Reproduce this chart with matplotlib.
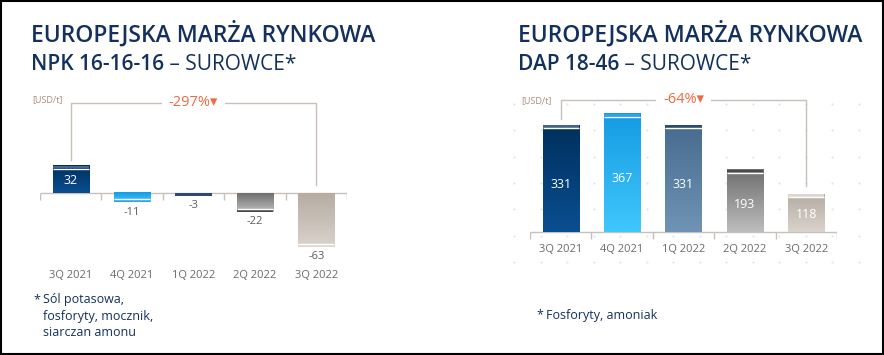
import numpy as np
import matplotlib.pyplot as plt
from matplotlib.colors import LinearSegmentedColormap
from matplotlib.transforms import offset_copy
from matplotlib.patches import Rectangle

plt.rcParams['font.family'] = ['Open Sans', 'DejaVu Sans']

# ---- data ----
quarters = ['3Q 2021', '4Q 2021', '1Q 2022', '2Q 2022', '3Q 2022']
npk_margin = [32, -11, -3, -22, -63]
dap_margin = [331, 367, 331, 193, 118]
npk_change = '-297%'
dap_change = '-64%'

npk_title = ('NPK 16-16-16', ' – SUROWCE*')
dap_title = ('DAP 18-46', ' – SUROWCE*')
npk_note = ['Sól potasowa,', 'fosforyty, mocznik,', 'siarczan amonu']
dap_note = ['Fosforyty, amoniak']

# ---- style ----
W, H = 884, 355
navy = '#13315c'
line_col = '#c9c0b9'
orange = '#ec6a43'
unit_col = '#b08a7e'
grey_txt = '#5c5c5c'
bar_grad = [('#00305e', '#0a4e90'), ('#159be2', '#40c7fc'), ('#476c8f', '#6e93b4'),
            ('#6f6f6f', '#bdbdbd'), ('#b6aca2', '#d9d3cc')]
cap_col = ['#45658a', '#2aa6e8', '#2c4c6e', '#4a4a4a', '#ddd7d0']


def fx(px):
    return px / W


def fy(py):
    return 1 - py / H


fig = plt.figure(figsize=(W / 100, H / 100), dpi=100)

# faint dot pattern behind the right panel
bg = fig.add_axes([0, 0, 1, 1], zorder=-1)
bg.set_xlim(0, W)
bg.set_ylim(H, 0)
bg.axis('off')
gx, gy = np.meshgrid(np.arange(514, 870, 26.5), np.arange(104, 265, 26.3))
bg.scatter(gx.ravel(), gy.ravel(), s=2.5, color='#dfe5ec', lw=0)


def draw_panel(ax, vals, ylim, label_drop, change):
    x = np.arange(len(vals))
    bars = ax.bar(x, vals, width=0.59, color='none', zorder=2)
    px_per_unit = ax.get_position().height * H / (ylim[1] - ylim[0])
    u = 1 / px_per_unit  # one pixel in data units

    for b, v, (c_top, c_bot), cap in zip(bars, vals, bar_grad, cap_col):
        x0, w = b.get_x(), b.get_width()
        y0, y1 = min(0, v), max(0, v)
        cmap = LinearSegmentedColormap.from_list('g', [c_top, c_bot])
        grad = np.linspace(0, 1, 64).reshape(-1, 1)
        ax.imshow(grad, extent=[x0, x0 + w, y0, y1], origin='upper',
                  cmap=cmap, aspect='auto', zorder=2)
        # end cap with thin white gap
        s = 1 if v >= 0 else -1
        capw = min(2.5 * u, abs(v))
        ax.add_patch(Rectangle((x0, v - s * capw), w, s * capw, color=cap, lw=0, zorder=3))
        if abs(v) * px_per_unit > 4:
            ax.hlines(v - s * (capw + 0.5 * u), x0, x0 + w, color='white', lw=1, zorder=4)

        if v > 0:
            ax.text(b.get_x() + w / 2, v * 0.45, str(v), ha='center', va='center',
                    color='white', fontsize=9, zorder=5)
        else:
            tr = offset_copy(ax.transData, fig=fig, x=0, y=-10, units='dots')
            ax.text(b.get_x() + w / 2, v, str(v), ha='center', va='center',
                    color=grey_txt, fontsize=8, transform=tr)

    # baseline + category ticks
    ax.hlines(0, -0.5, len(vals) - 0.5, color=line_col, lw=1, zorder=1)
    ax.vlines(np.arange(-0.5, len(vals)), -7 * u, 0, color=line_col, lw=1)
    trl = offset_copy(ax.transData, fig=fig, x=0, y=-label_drop, units='dots')
    for i, q in enumerate(quarters):
        ax.text(i, 0, q, ha='center', va='center', color='#6a6a6a',
                fontsize=8, transform=trl)

    # change bracket
    top = ylim[1] - 3 * u
    e0 = max(vals[0], 0) + 6 * u
    e1 = max(vals[-1], 0) + 8 * u
    ax.plot([0, 0, len(vals) - 1, len(vals) - 1], [e0, top, top, e1],
            color=line_col, lw=1, clip_on=False, zorder=1)
    ax.text((len(vals) - 1) / 2, top, change + '▾', ha='center', va='center',
            color=orange, fontsize=10.5, family=['Open Sans', 'DejaVu Sans'],
            bbox=dict(boxstyle='square', fc='white', ec='none', pad=0.45), zorder=3)

    ax.set_xlim(-0.5, len(vals) - 0.5)
    ax.set_ylim(*ylim)
    ax.axis('off')


# left panel: NPK
ylim_l = (-80, 110)
ax1 = fig.add_axes([fx(40), fy(193 + 80 * 0.85), 307 / W, 190 * 0.85 / H])
draw_panel(ax1, npk_margin, ylim_l, 83, npk_change)

# right panel: DAP
ylim_r = (-60, 420)
ax2 = fig.add_axes([fx(530), fy(232 + 60 * 0.322), 307 / W, 480 * 0.322 / H])
draw_panel(ax2, dap_margin, ylim_r, 18, dap_change)

# titles
for ax, x0, (bold, rest) in [(ax1, 31, npk_title), (ax2, 518, dap_title)]:
    fig.text(fx(x0), fy(34), 'EUROPEJSKA MARŻA RYNKOWA', fontsize=16.5,
             fontweight='semibold', color=navy, va='center')
    t = fig.text(fx(x0), fy(65), bold, fontsize=15, fontweight='semibold',
                 color=navy, va='center')
    ax.annotate(rest, xy=(1, 0), xycoords=t, va='bottom', ha='left',
                fontsize=15, color=navy)

# units
fig.text(fx(32), fy(100), '[USD/t]', fontsize=6.5, color=unit_col, va='center')
fig.text(fx(521), fy(101), '[USD/t]', fontsize=6.5, color=unit_col, va='center')

# footnotes
fig.text(fx(33), fy(300), '*', fontsize=9, color=navy, va='center')
for i, line in enumerate(npk_note):
    fig.text(fx(43), fy(300 + 16.5 * i), line, fontsize=9, color=navy, va='center')
fig.text(fx(536), fy(315), '*', fontsize=9, color=navy, va='center')
fig.text(fx(546), fy(315), dap_note[0], fontsize=9, color=navy, va='center')

# outer frame
fig.add_artist(Rectangle((0.0008, 0.004), 0.9977, 0.9945, transform=fig.transFigure,
                         fill=False, edgecolor='black', lw=1.5))

fig.savefig('out.png', dpi=100, facecolor='white')
